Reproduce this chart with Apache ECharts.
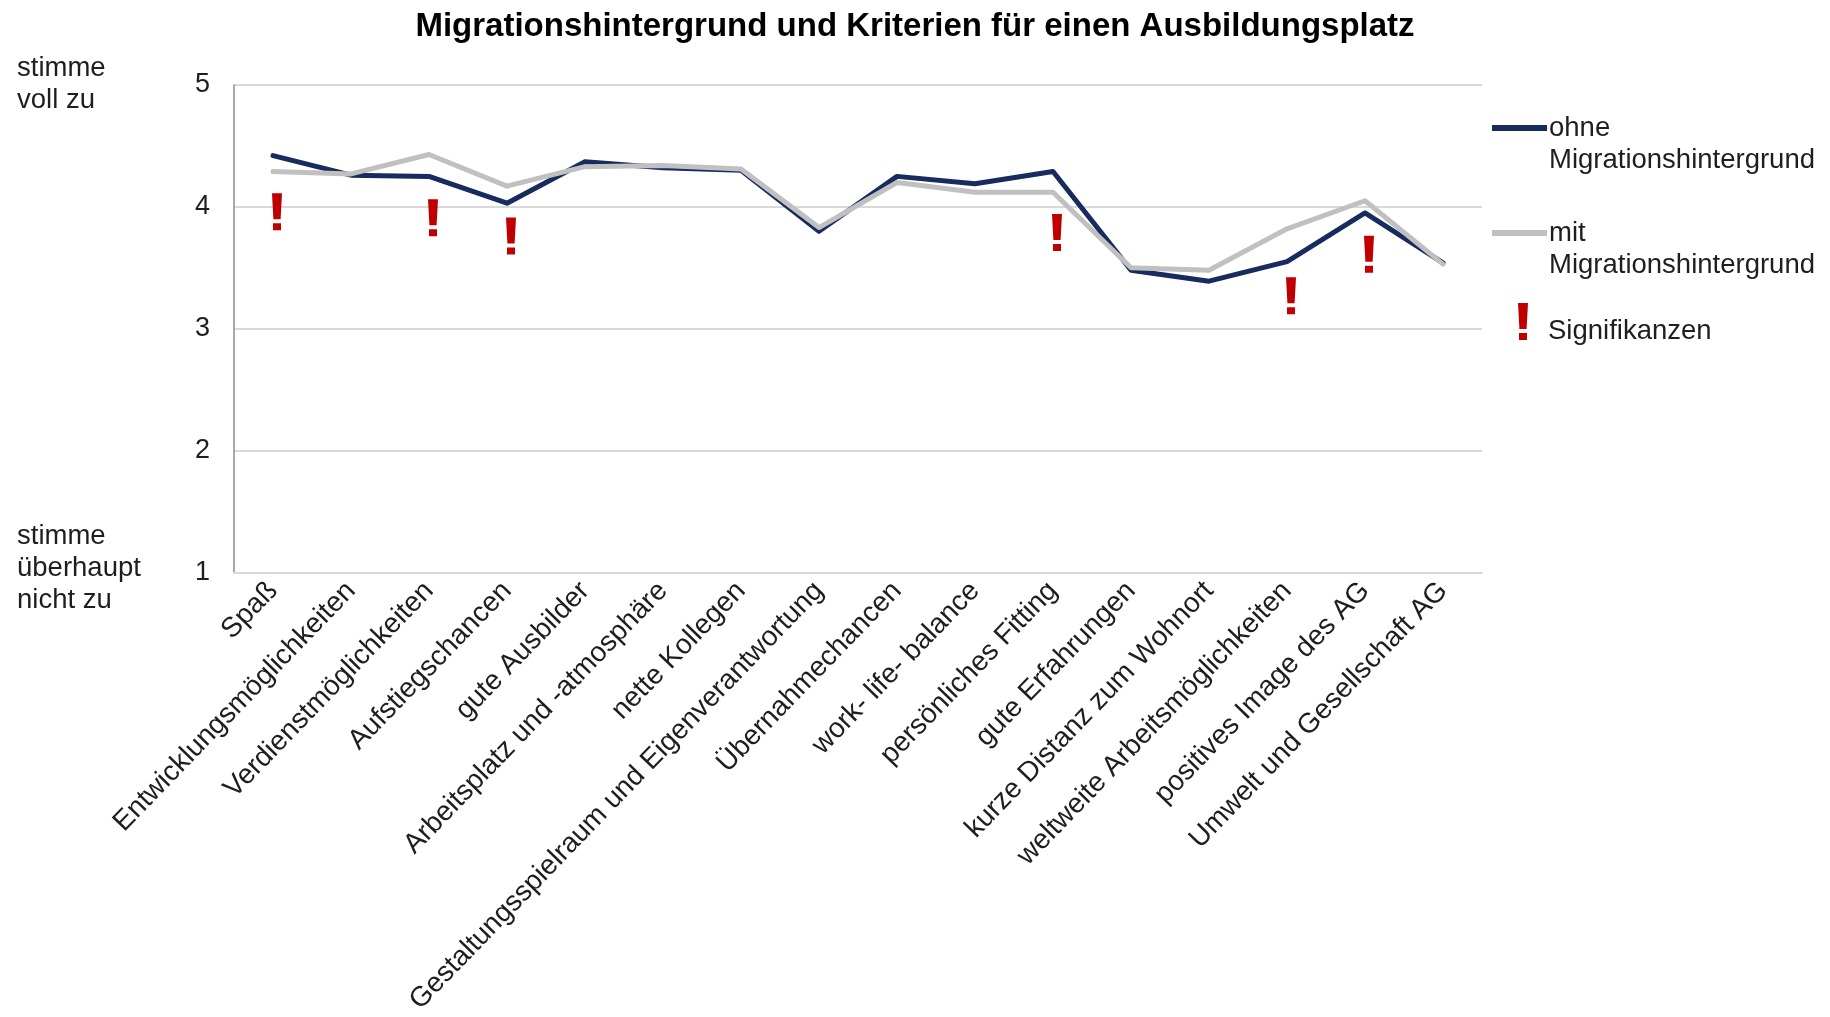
<!DOCTYPE html>
<html>
<head>
<meta charset="utf-8">
<script src="https://cdn.jsdelivr.net/npm/echarts@6.0.0/dist/echarts.min.js"></script>
<style>
  html, body { margin: 0; padding: 0; background: #fff; }
  #main { width: 1830px; height: 1017px; }
</style>
</head>
<body>
<div id="main"></div>
<script>
const categories = [
  "Spaß",
  "Entwicklungsmöglichkeiten",
  "Verdienstmöglichkeiten",
  "Aufstiegschancen",
  "gute Ausbilder",
  "Arbeitsplatz und -atmosphäre",
  "nette Kollegen",
  "Gestaltungsspielraum und Eigenverantwortung",
  "Übernahmechancen",
  "work- life- balance",
  "persönliches Fitting",
  "gute Erfahrungen",
  "kurze Distanz zum Wohnort",
  "weltweite Arbeitsmöglichkeiten",
  "positives Image des AG",
  "Umwelt und Gesellschaft AG"
];
const ohneValues = [4.42, 4.26, 4.25, 4.03, 4.37, 4.32, 4.30, 3.80, 4.25, 4.19, 4.29, 3.48, 3.39, 3.55, 3.95, 3.54];
const mitValues = [4.29, 4.27, 4.43, 4.17, 4.33, 4.34, 4.31, 3.83, 4.20, 4.12, 4.12, 3.50, 3.48, 3.82, 4.05, 3.53];
// where the red "!" sits (null = no significant difference)
const sigMarks = [3.96, null, 3.91, 3.76, null, null, null, null, null, null, 3.79, null, null, 3.27, 3.61, null];
const yTicks = [1, 2, 3, 4, 5];

const FONT = "'Liberation Sans', Arial, sans-serif";
const NAVY = "#172b5e";
const GREY = "#c0c0c0";
const RED = "#c00000";
const TXT = "#1e1e1e";
const BANG = "path://M0,0L10,0L8.6,26L1.4,26Z M1,30L9,30L9,37L1,37Z";

const options = {
  backgroundColor: "#fff",
  animation: false,
  textStyle: { fontFamily: FONT },
  title: {
    text: "Migrationshintergrund und Kriterien für einen Ausbildungsplatz",
    left: "center",
    top: 5,
    textStyle: { fontFamily: FONT, fontSize: 33, fontWeight: "bold", color: "#000" }
  },
  grid: { left: 234, right: 348, top: 85, bottom: 443 },
  xAxis: {
    type: "category",
    data: categories,
    boundaryGap: true,
    axisLine: { lineStyle: { color: "#d9d9d9", width: 2 } },
    axisTick: { show: false },
    axisLabel: {
      interval: 0,
      rotate: 46,
      margin: 14,
      fontSize: 28,
      color: TXT,
      fontFamily: FONT
    }
  },
  yAxis: {
    type: "value",
    min: yTicks[0],
    max: yTicks[yTicks.length - 1],
    interval: 1,
    axisLine: { show: true, lineStyle: { color: "#8c8c8c", width: 1.5 } },
    axisTick: { show: false },
    splitLine: { lineStyle: { color: "#d9d9d9", width: 2 } },
    axisLabel: { margin: 24, fontSize: 27, color: TXT, fontFamily: FONT }
  },
  series: [
    {
      name: "ohne Migrationshintergrund",
      type: "line",
      data: ohneValues,
      symbol: "none",
      lineStyle: { color: NAVY, width: 5, cap: "round", join: "round" },
      z: 3
    },
    {
      name: "mit Migrationshintergrund",
      type: "line",
      data: mitValues,
      symbol: "none",
      lineStyle: { color: GREY, width: 5, cap: "round", join: "round" },
      z: 4
    },
    {
      name: "Signifikanzen",
      type: "scatter",
      data: sigMarks,
      symbol: BANG,
      symbolSize: [10, 37],
      symbolOffset: [4, 0],
      itemStyle: { color: RED, opacity: 1 },
      z: 5
    }
  ],
  graphic: [
    {
      type: "text", x: 17, y: 52,
      style: { text: "stimme\nvoll zu", font: "27.5px " + FONT, fill: TXT, lineHeight: 32 }
    },
    {
      type: "text", x: 17, y: 520,
      style: { text: "stimme\nüberhaupt\nnicht zu", font: "27.5px " + FONT, fill: TXT, lineHeight: 32 }
    },
    // legend
    { type: "rect", shape: { x: 1492, y: 125, width: 55, height: 6 }, style: { fill: NAVY } },
    {
      type: "text", x: 1549, y: 112,
      style: { text: "ohne\nMigrationshintergrund", font: "27.5px " + FONT, fill: TXT, lineHeight: 32 }
    },
    { type: "rect", shape: { x: 1492, y: 230, width: 55, height: 6 }, style: { fill: GREY } },
    {
      type: "text", x: 1549, y: 217,
      style: { text: "mit\nMigrationshintergrund", font: "27.5px " + FONT, fill: TXT, lineHeight: 32 }
    },
    {
      type: "polygon",
      shape: { points: [[1518, 303], [1528, 303], [1526.6, 329], [1519.4, 329]] },
      style: { fill: RED }
    },
    { type: "rect", shape: { x: 1519, y: 333, width: 8, height: 7 }, style: { fill: RED } },
    {
      type: "text", x: 1548, y: 315,
      style: { text: "Signifikanzen", font: "27.5px " + FONT, fill: TXT, lineHeight: 32 }
    }
  ]
};

var myChart = echarts.init(document.getElementById("main"));
myChart.setOption(options);
window.onresize = function() {
  myChart.resize();
};
</script>
</body>
</html>
